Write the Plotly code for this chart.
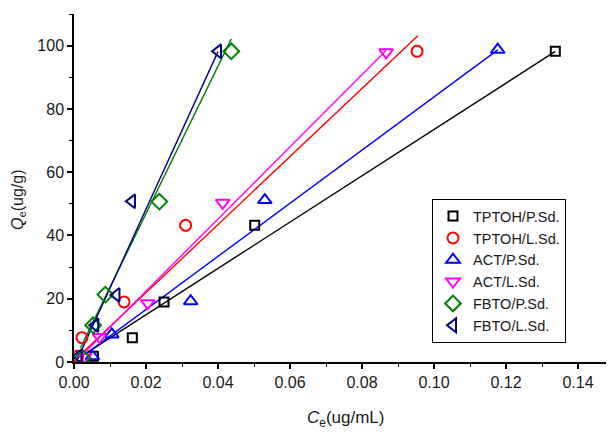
import plotly.graph_objects as go

# ---- data ----
names = ["TPTOH/P.Sd.", "TPTOH/L.Sd.", "ACT/P.Sd.", "ACT/L.Sd.", "FBTO/P.Sd.", "FBTO/L.Sd."]

tptoh_p_x = [0.0054, 0.0162, 0.0250, 0.0502, 0.1337]
tptoh_p_y = [1.8, 7.7, 19.0, 43.2, 98.2]
tptoh_l_x = [0.0010, 0.0022, 0.0139, 0.0310, 0.0953]
tptoh_l_y = [1.8, 7.7, 19.0, 43.2, 98.2]
act_p_x = [0.0051, 0.0105, 0.0324, 0.0530, 0.1177]
act_p_y = [1.8, 8.7, 19.2, 51.2, 98.7]
act_l_x = [0.0030, 0.0071, 0.0205, 0.0413, 0.0867]
act_l_y = [1.6, 7.9, 18.6, 50.3, 97.9]
fbto_p_x = [0.0024, 0.0053, 0.0087, 0.0237, 0.0437]
fbto_p_y = [1.3, 11.6, 21.3, 50.7, 98.2]
fbto_l_x = [0.0013, 0.0059, 0.0118, 0.0161, 0.0400]
fbto_l_y = [1.8, 11.6, 21.2, 50.8, 98.2]

# linear fit lines: slope, intercept, x range
fit_slope = [732, 1076, 840, 1140, 2330, 2490]
fit_intercept = [0.3, 0.4, -0.2, -0.4, 0.3, -1.5]
fit_x_start = [0.003, 0.001, 0.003, 0.002, 0.0018, 0.001]
fit_x_end = [0.1337, 0.0955, 0.1177, 0.0867, 0.0437, 0.0400]

colors = ["#000000", "#ff0000", "#0000ff", "#ff00ff", "#008000", "#000080"]
symbols = ["square-open", "circle-open", "triangle-up-open", "triangle-down-open",
           "diamond-open", "triangle-left-open"]
sizes = [9, 11, 12, 12, 12, 12]

xs = [tptoh_p_x, tptoh_l_x, act_p_x, act_l_x, fbto_p_x, fbto_l_x]
ys = [tptoh_p_y, tptoh_l_y, act_p_y, act_l_y, fbto_p_y, fbto_l_y]

FONT = "Arial, Liberation Sans, sans-serif"

fig = go.Figure()

for i in range(6):
    x0, x1 = fit_x_start[i], fit_x_end[i]
    fig.add_trace(go.Scatter(
        x=[x0, x1],
        y=[fit_intercept[i] + fit_slope[i] * x0, fit_intercept[i] + fit_slope[i] * x1],
        mode="lines", line=dict(color=colors[i], width=1.4), showlegend=False,
        hoverinfo="skip"))

for i in range(6):
    fig.add_trace(go.Scatter(
        x=xs[i], y=ys[i], mode="markers", name=names[i],
        marker=dict(symbol=symbols[i], size=sizes[i], color=colors[i],
                    line=dict(width=2, color=colors[i]))))

# page has an 8px body margin, so the figure is 8px smaller than the window
fig.update_layout(
    width=606, height=425,
    margin=dict(l=66, r=0, t=6, b=71, autoexpand=False),
    paper_bgcolor="white", plot_bgcolor="white",
    font=dict(family=FONT, size=16, color="#1a1a1a"),
    legend=dict(x=(566 - 74) / 540, y=0.468, xanchor="right", yanchor="top",
                xref="paper", yref="paper",
                bordercolor="#000000", borderwidth=1, bgcolor="white",
                font=dict(family=FONT, size=14.5, color="#1a1a1a"), itemwidth=30,
                tracegroupgap=0),
    showlegend=True,
    annotations=[
        dict(text="<i>C</i><sub>e</sub>(ug/mL)", xref="paper", yref="paper",
             x=(345 - 74) / 540, y=-(419 - 362) / 348, xanchor="center", yanchor="middle",
             showarrow=False, font=dict(family=FONT, size=17, color="#1a1a1a")),
        dict(text="<i>Q</i><sub>e</sub>(ug/g)", xref="paper", yref="paper",
             x=-(74 - 18) / 540, y=(362 - 200) / 348, xanchor="center", yanchor="middle",
             textangle=-90, showarrow=False,
             font=dict(family=FONT, size=16, color="#1a1a1a")),
    ],
)

fig.update_xaxes(
    range=[0, 0.15], dtick=0.02, tick0=0, tickformat=".2f", automargin=False,
    showline=True, linecolor="black", linewidth=1.5,
    ticks="outside", ticklen=5, tickwidth=1.5, tickcolor="black",
    minor=dict(ticks="outside", ticklen=3, dtick=0.01, tickcolor="black", tickwidth=1.2),
    showgrid=False, zeroline=False,
)
fig.update_yaxes(
    range=[0, 110], dtick=20, tick0=0, automargin=False,
    showline=True, linecolor="black", linewidth=1.5,
    ticks="outside", ticklen=5, tickwidth=1.5, tickcolor="black",
    minor=dict(ticks="outside", ticklen=3, dtick=10, tickcolor="black", tickwidth=1.2),
    showgrid=False, zeroline=False,
)

fig.write_html("out.html")
